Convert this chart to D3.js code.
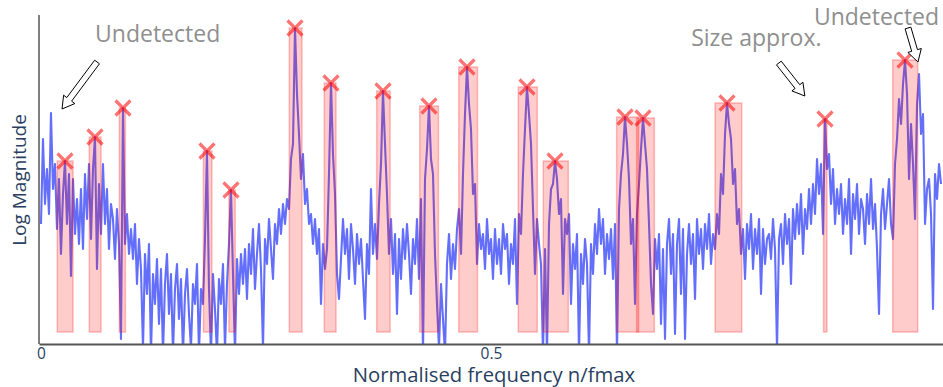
<!DOCTYPE html>
<html>
<head>
<meta charset="utf-8">
<script src="https://cdn.jsdelivr.net/npm/d3@7"></script>
<style>
  html, body { margin: 0; padding: 0; background: #fff; }
  svg { display: block; font-family: "Open Sans", "Noto Sans", sans-serif; }
</style>
</head>
<body>
<svg id="chart" width="943" height="387"></svg>
<script>
// ---- data ----
// log-magnitude spectrum, evenly spaced from n/fmax = 0 to 1
const signal = [
  12.0, 20.5, 14.0, 17.5, 13.0, 23.1, 15.5, 18.0, 11.5, 16.5,
  9.0, 15.0, 18.3, 12.0, 17.0, 6.8, 16.5, 11.0, 14.5, 10.0,
  15.5, 9.5, 17.0, 12.5, 18.0, 10.5, 17.5, 20.7, 7.5, 16.0,
  11.0, 18.0, 12.0, 15.5, 9.5, 14.0, 12.5, 8.5, 13.5, 10.0,
  0.5, 23.6, 10.0, 13.0, 9.0, 11.5, 8.5, 12.0, 6.0, 10.5,
  7.5, -0.5, 9.0, 5.0, 10.0, -1.0, 7.0, 4.0, 8.5, 2.0,
  7.5, -1.0, 6.0, 9.0, 3.0, 7.0, -1.0, 5.5, 8.0, 2.5,
  6.5, -1.0, 5.0, 7.5, 3.0, -0.5, 6.0, 4.0, 8.0, -1.0,
  5.5, 4.0, 10.5, 19.3, 5.5, -1.0, 7.0, 3.5, -1.0, 6.5,
  4.0, 8.0, -0.5, 6.0, 10.0, 15.4, 7.0, -1.0, 8.5, 5.0,
  9.0, 6.0, 9.5, 4.5, 10.0, 7.0, 11.5, 5.5, 9.0, 12.0,
  7.5, -0.5, 10.5, 8.0, 12.5, 9.5, 6.5, 12.0, 10.0, 13.5,
  11.0, 14.0, 12.0, 14.5, 13.5, 18.5, 20.0, 31.6, 25.0, 21.0,
  16.5, 19.0, 14.0, 15.5, 12.0, 13.0, 10.0, 12.5, 9.0, 11.5,
  4.0, 10.0, 7.5, 9.5, 17.0, 26.1, 19.0, 15.0, 7.0, 4.5,
  8.5, 12.5, 9.0, 11.5, 6.5, 12.0, 9.5, 6.0, 11.0, 8.0,
  10.5, 6.5, 2.5, 10.0, 7.0, 15.5, 9.0, 12.0, 8.5, 14.0,
  18.0, 25.3, 20.0, 15.0, 9.0, 12.5, 7.0, 11.0, 3.0, 10.5,
  6.5, 11.5, 8.5, 12.0, 9.0, 5.0, 10.5, 8.0, 12.5, 6.5,
  14.5, -1.0, 16.5, 19.5, 23.8, 18.5, 17.0, 9.0, 4.0, -0.5,
  6.0, 2.5, -1.0, 8.0, 11.0, 6.5, 10.0, 7.5, 11.5, 13.5,
  9.0, 17.0, 23.0, 27.7, 24.0, 21.5, 15.0, 16.0, 8.0, 12.0,
  9.5, 11.0, 7.5, 12.5, 9.0, 10.5, 6.5, 11.5, 8.0, 10.5,
  7.0, 12.0, 9.5, 11.0, 6.0, 10.0, 8.0, 12.5, 4.0, 13.0,
  11.0, 17.0, 21.5, 25.7, 23.0, 20.0, 13.5, 7.0, 12.5, 10.0,
  8.0, -1.0, 9.5, -1.0, 12.0, 15.5, 16.0, 18.3, 16.5, 13.0,
  14.5, 5.0, 12.5, 11.0, 13.0, 4.0, 10.0, 7.5, 11.0, -1.0,
  9.0, 6.0, 10.5, 8.0, -1.0, 10.0, 7.0, 12.0, 9.0, 13.5,
  10.0, 12.5, 7.0, 11.0, 8.5, 11.5, 6.5, 12.0, -1.0, 13.5,
  17.0, 19.0, 22.7, 20.0, 16.5, 10.0, 12.5, 4.0, 13.0, 16.0,
  19.5, 22.6, 20.0, 17.5, 12.0, 6.0, 3.0, 10.5, 7.5, 11.0,
  2.0, 9.5, 0.5, 10.0, 12.5, 7.0, 11.0, 1.0, 10.0, 12.5,
  5.0, 11.5, 0.5, 9.0, 12.0, 8.0, 11.0, 4.5, 12.5, 9.0,
  11.5, 7.5, 12.0, 9.5, 13.0, 8.0, 11.0, 9.5, 13.0, 11.0,
  17.0, 15.0, 21.0, 24.1, 22.0, 20.5, 16.0, 17.5, 12.0, 13.5,
  9.0, 11.5, 6.5, 12.0, 9.5, 13.0, 7.5, 11.5, 9.0, 12.5,
  5.0, 11.5, 8.0, 10.5, 11.0, 8.5, 12.5, 9.5, -0.5, 10.5,
  12.0, 8.0, 13.0, 10.0, 12.5, 6.0, 13.5, 10.5, 14.0, 11.0,
  15.0, 9.0, 13.5, 11.5, 15.5, 12.0, 16.0, 13.0, 18.5, 15.0,
  18.0, 11.0, 22.5, 17.5, 19.0, 14.0, 17.5, 12.0, 15.5, 13.0,
  16.0, 11.0, 14.5, 12.0, 16.5, 9.0, 15.0, 12.5, 16.0, 11.0,
  14.5, 13.5, 10.0, 15.0, 12.0, 16.5, 11.5, 14.0, 9.5, 3.0,
  13.0, 15.5, 11.5, 14.0, 16.5, 12.0, 10.5, 18.0, 20.5, 24.5,
  22.0, 26.0, 28.4, 25.0, 16.5, 22.0, 18.0, 12.5, 24.0, 27.0,
  21.0, 23.0, 12.0, 15.5, 16.5, 13.0, 3.5, 17.0, 14.5, 18.0,
  16.0
];

// detected peaks (index into signal)
const peakIndex = [12, 27, 41, 83, 95, 127, 145, 171, 194, 213, 243, 257, 292, 301, 343, 392, 432];
// estimated peak widths (boxes), in n/fmax
const boxStart = [0.0181, 0.0537, 0.0871, 0.1805, 0.2088, 0.2759, 0.3148, 0.3730, 0.4208, 0.4642, 0.5303, 0.5581, 0.6396, 0.6618, 0.7490, 0.8695, 0.9463];
const boxEnd   = [0.0356, 0.0667, 0.0938, 0.1899, 0.2158, 0.2900, 0.3278, 0.3879, 0.4416, 0.4850, 0.5514, 0.5859, 0.6640, 0.6815, 0.7786, 0.8732, 0.9741];
const boxBase = 1.2;

const xTickValues = [0, 0.5];
const xTickLabels = ["0", "0.5"];

// annotations (data coordinates)
const annoText = ["Undetected", "Size approx.", "Undetected"];
const annoTextX = [0.1296, 0.7948, 0.9283];
const annoTextY = [30.2, 29.85, 31.9];
const arrowTailX = [0.0623, 0.8198, 0.9633];
const arrowTailY = [28.2, 28.1, 31.6];
const arrowTipX = [0.0234, 0.8487, 0.9744];
const arrowTipY = [23.5, 24.8, 28.2];

(function () {
// ---- chart ----
const svg = d3.select("#chart");
const mLeft = 39, mRight = 943, mTop = 15, mBottom = 344;

const x = d3.scaleLinear().domain([-0.0022, 1.0022]).range([mLeft, mRight]);
const y = d3.scaleLinear().domain([0, 32.9]).range([mBottom, mTop]);
const n = signal.length;
const xOf = i => i / (n - 1);

svg.append("defs").append("clipPath").attr("id", "plotclip")
  .append("rect").attr("x", mLeft).attr("y", mTop).attr("width", mRight - mLeft).attr("height", mBottom - mTop);

const plot = svg.append("g").attr("clip-path", "url(#plotclip)");

// spectrum line
plot.append("path")
  .datum(signal)
  .attr("fill", "none")
  .attr("stroke", "#636efa")
  .attr("stroke-width", 2.1)
  .attr("stroke-linejoin", "round")
  .attr("d", d3.line().x((d, i) => x(xOf(i))).y(d => y(d)));

// peak boxes
plot.selectAll("rect.box")
  .data(peakIndex)
  .enter().append("rect")
  .attr("class", "box")
  .attr("x", (d, k) => x(boxStart[k]))
  .attr("width", (d, k) => x(boxEnd[k]) - x(boxStart[k]))
  .attr("y", d => y(signal[d]))
  .attr("height", d => y(boxBase) - y(signal[d]))
  .attr("fill", "rgba(255,0,0,0.2)")
  .attr("stroke", "rgba(255,0,0,0.25)")
  .attr("stroke-width", 1.5);

// peak markers
plot.selectAll("path.mark")
  .data(peakIndex)
  .enter().append("path")
  .attr("class", "mark")
  .attr("transform", d => `translate(${x(xOf(d))},${y(signal[d])})`)
  .attr("d", "M-7.5,-7.5L7.5,7.5M-7.5,7.5L7.5,-7.5")
  .attr("stroke", "rgba(255,0,0,0.55)")
  .attr("stroke-width", 3.2)
  .attr("fill", "none");

// axes
const xAxis = d3.axisBottom(x).tickValues(xTickValues).tickFormat((d, i) => xTickLabels[i]).tickSize(0).tickPadding(4);
const gx = svg.append("g").attr("transform", `translate(0,${mBottom})`).call(xAxis);
gx.attr("font-size", null).attr("font-family", null);
gx.select(".domain").attr("stroke", "#555").attr("stroke-width", 2);
gx.selectAll("text")
  .style("fill", "#2a3f5f")
  .style("font-size", "15.5px")
  .style("font-family", "'Open Sans', sans-serif");

svg.append("line")
  .attr("x1", mLeft).attr("x2", mLeft).attr("y1", mTop).attr("y2", mBottom)
  .attr("stroke", "#000").attr("stroke-width", 1);

svg.append("text")
  .attr("x", 494).attr("y", 382)
  .attr("text-anchor", "middle")
  .attr("fill", "#2a3f5f").attr("font-size", 20.3)
  .text("Normalised frequency n/fmax");

svg.append("text")
  .attr("transform", "translate(26,180) rotate(-90)")
  .attr("text-anchor", "middle")
  .attr("fill", "#2a3f5f").attr("font-size", 19)
  .text("Log Magnitude");

// annotations
svg.selectAll("text.anno")
  .data(annoText)
  .enter().append("text")
  .attr("class", "anno")
  .attr("x", (d, k) => x(annoTextX[k]))
  .attr("y", (d, k) => y(annoTextY[k]))
  .attr("text-anchor", "middle")
  .attr("fill", "#8f8f8f")
  .attr("font-size", 23)
  .text(d => d);

function arrowPath(x0, y0, x1, y1) {
  const dx = x1 - x0, dy = y1 - y0;
  const len = Math.hypot(dx, dy);
  const ux = dx / len, uy = dy / len;
  const px = -uy, py = ux;
  const head = 12, hw = 7, sw = 3;
  const bx = x1 - ux * head, by = y1 - uy * head;
  const pts = [
    [x0 + px * sw, y0 + py * sw],
    [bx + px * sw, by + py * sw],
    [bx + px * hw, by + py * hw],
    [x1, y1],
    [bx - px * hw, by - py * hw],
    [bx - px * sw, by - py * sw],
    [x0 - px * sw, y0 - py * sw]
  ];
  return "M" + pts.map(p => p.join(",")).join("L") + "Z";
}

svg.selectAll("path.arrow")
  .data(annoText)
  .enter().append("path")
  .attr("class", "arrow")
  .attr("d", (d, k) => arrowPath(x(arrowTailX[k]), y(arrowTailY[k]), x(arrowTipX[k]), y(arrowTipY[k])))
  .attr("fill", "#fff")
  .attr("stroke", "#000")
  .attr("stroke-width", 1);
})();
</script>
</body>
</html>
